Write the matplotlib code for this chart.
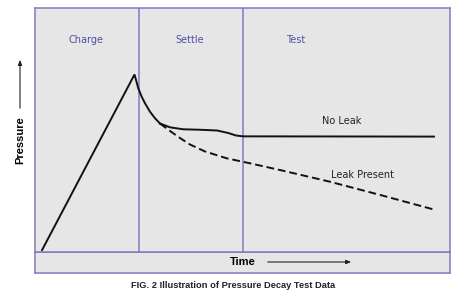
import matplotlib
matplotlib.use('Agg')
import matplotlib.pyplot as plt
from matplotlib.patches import FancyArrowPatch

# DATA (time and pressure in arbitrary units, 0-100)
phase_names = ['Charge', 'Settle', 'Test']
phase_edges = [25.0, 50.0]

# charge ramp + settle drop (shared by both curves)
rise_t = [1.7, 23.98, 24.89, 25.71, 26.51, 27.71, 28.92, 30.12]
rise_p = [0.8, 72.75, 67.09, 63.65, 60.94, 57.5, 54.8, 52.66]

# no leak branch
noleak_t = [30.12, 32.53, 35.66, 39.76, 43.86, 46.5, 48.43, 50.12, 96.14]
noleak_p = [52.66, 51.1, 50.3, 50.1, 49.8, 48.8, 47.75, 47.4, 47.3]

# leak present branch
leak_t = [30.12, 32.53, 34.94, 37.35, 40.96, 46.19, 51.8, 59.04, 71.08, 83.13, 96.14]
leak_p = [52.66, 49.6, 46.7, 44.06, 41.2, 38.4, 36.35, 33.6, 28.8, 23.4, 17.4]

# COLOURS
bg = '#e6e6e6'
edge = '#7f7ac4'
label_col = '#5050a8'
ink = '#111111'

W, H = 472, 303
fig = plt.figure(figsize=(W / 100, H / 100), dpi=100)
fig.patch.set_facecolor('white')

def box(x0, y0, x1, y1):
    # pixel box (top-left origin) -> figure fraction
    return [x0 / W, 1 - y1 / H, (x1 - x0) / W, (y1 - y0) / H]

# bottom strip for the Time label
ax_strip = fig.add_axes(box(35, 252, 450, 273))
ax_strip.set_facecolor(bg)
ax_strip.set_xticks([])
ax_strip.set_yticks([])
for s in ax_strip.spines.values():
    s.set_color(edge)
    s.set_linewidth(1.1)

# main plot
ax = fig.add_axes(box(35, 8, 450, 252))
ax.set_facecolor(bg)
ax.set_xlim(0, 100)
ax.set_ylim(0, 100)
ax.set_xticks([])
ax.set_yticks([])
for s in ax.spines.values():
    s.set_color(edge)
    s.set_linewidth(1.1)

for e in phase_edges:
    ax.axvline(e, color=edge, lw=1.1)

# phase labels
label_x = [12.3, 37.3, 62.7]
for name, x in zip(phase_names, label_x):
    ax.text(x, 86.9, name, color=label_col, fontsize=7, ha='center', va='center')

# curves
ax.plot(rise_t, rise_p, color=ink, lw=1.4, solid_joinstyle='miter')
ax.plot(noleak_t, noleak_p, color=ink, lw=1.4)
ax.plot(leak_t, leak_p, color=ink, lw=1.4, dashes=(4, 2))

ax.text(74, 51.5, 'No Leak', color='#222222', fontsize=7, ha='center', va='bottom')
ax.text(79, 31.6, 'Leak Present', color='#222222', fontsize=7, ha='center', va='center')

# axis labels with arrows
fig.text(243 / W, 1 - 262 / H, 'Time', family='Liberation Sans', weight='bold',
         fontsize=8, ha='center', va='center')
fig.add_artist(FancyArrowPatch(
    (265 / W, 1 - 262 / H), (354 / W, 1 - 262 / H), transform=fig.transFigure,
    arrowstyle='-|>,head_length=3,head_width=1.2', color='#222222', lw=0.8))

fig.text(20 / W, 1 - 140 / H, 'Pressure', family='Liberation Sans', weight='bold',
         fontsize=8, ha='center', va='center', rotation=90)
fig.add_artist(FancyArrowPatch(
    (20 / W, 1 - 111 / H), (20 / W, 1 - 57 / H), transform=fig.transFigure,
    arrowstyle='-|>,head_length=3,head_width=1.2', color='#222222', lw=0.8))

# caption
fig.text(233 / W, 1 - 286 / H, 'FIG. 2 Illustration of Pressure Decay Test Data',
         family='Liberation Sans', weight='bold', fontsize=6.7, ha='center', va='center',
         color='#222222')

fig.savefig('out.png', dpi=100)
plt.close()
